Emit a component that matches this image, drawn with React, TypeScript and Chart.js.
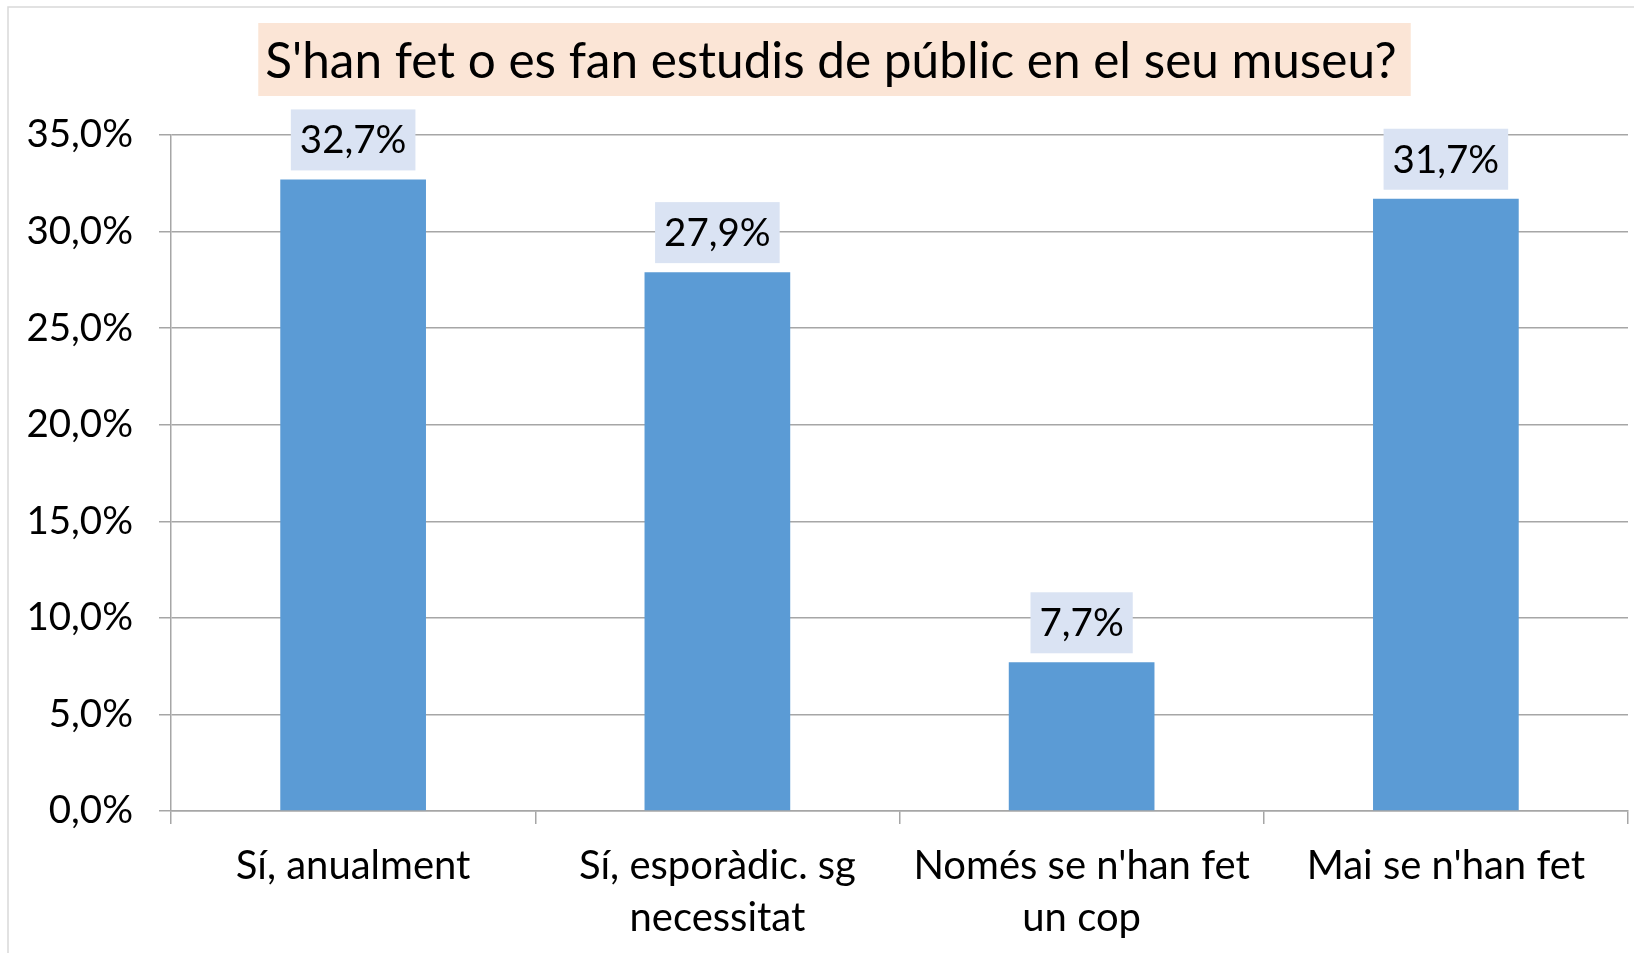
import React, { useEffect, useRef } from "react";
import { Chart, registerables } from "chart.js";

Chart.register(...registerables);

const categories: string[][] = [
  ["Sí, anualment"],
  ["Sí, esporàdic. sg", "necessitat"],
  ["Només se n'han fet", "un cop"],
  ["Mai se n'han fet"],
];
const values: number[] = [32.7, 27.9, 7.7, 31.7];
const titleText = "S'han fet o es fan estudis de públic en el seu museu?";
const yMin = 0;
const yMax = 35;
const yStep = 5;

const FONT = "Lato, 'Open Sans', sans-serif";
const TICK_SIZE = 38.5;
const XLABEL_SIZE = 40;
const TITLE_SIZE = 49.5;

const fmt = (v: number) => v.toFixed(1).replace(".", ",") + "%";

const framePlugin = {
  id: "frame",
  beforeDraw(chart: any) {
    const ctx = chart.ctx;
    ctx.save();
    ctx.fillStyle = "#ffffff";
    ctx.fillRect(0, 0, chart.width, chart.height);
    ctx.strokeStyle = "#D9D9D9";
    ctx.lineWidth = 1.5;
    ctx.strokeRect(8, 7, chart.width + 20, chart.height + 20);
    ctx.restore();
  },
  afterDraw(chart: any) {
    const ctx = chart.ctx;
    ctx.save();
    ctx.font = `${TITLE_SIZE}px ${FONT}`;
    const w = ctx.measureText(titleText).width;
    const cx = 831;
    ctx.fillStyle = "#FBE5D6";
    ctx.fillRect(cx - w / 2 - 7, 23, w + 21, 73);
    ctx.fillStyle = "#000000";
    ctx.textAlign = "center";
    ctx.textBaseline = "alphabetic";
    ctx.fillText(titleText, cx, 78);
    ctx.restore();
  },
};

const labelPlugin = {
  id: "barLabels",
  afterDatasetsDraw(chart: any) {
    const ctx = chart.ctx;
    const meta = chart.getDatasetMeta(0);
    ctx.save();
    ctx.font = `${TICK_SIZE}px ${FONT}`;
    meta.data.forEach((bar: any, i: number) => {
      const txt = fmt(values[i]);
      const w = ctx.measureText(txt).width;
      const bw = w + 18;
      const bh = 61;
      const bottom = bar.y - 9;
      ctx.fillStyle = "#DAE3F3";
      ctx.fillRect(bar.x - bw / 2, bottom - bh, bw, bh);
      ctx.fillStyle = "#000000";
      ctx.textAlign = "center";
      ctx.textBaseline = "middle";
      ctx.fillText(txt, bar.x, bottom - bh / 2 + 1);
    });
    ctx.restore();
  },
};

export default function App() {
  const ref = useRef<HTMLCanvasElement | null>(null);
  useEffect(() => {
    if (!ref.current) return;
    const chart = new Chart(ref.current, {
      type: "bar",
      data: {
        labels: categories,
        datasets: [
          {
            data: values,
            backgroundColor: "#5B9BD5",
            borderWidth: 0,
            barPercentage: 0.4,
            categoryPercentage: 1.0,
          },
        ],
      },
      options: {
        animation: false,
        responsive: false,
        maintainAspectRatio: false,
        layout: { padding: { left: 0, top: 135, right: 6, bottom: 0 } },
        plugins: {
          legend: { display: false },
          title: { display: false },
          tooltip: { enabled: false },
        },
        scales: {
          x: {
            grid: {
              offset: true,
              drawOnChartArea: false,
              drawTicks: true,
              tickLength: 13,
              color: "#A6A6A6",
              lineWidth: 1.5,
            },
            border: { color: "#A6A6A6", width: 1.5 },
            ticks: {
              color: "#000000",
              font: { family: FONT, size: XLABEL_SIZE, lineHeight: 1.3 },
              padding: 16,
              maxRotation: 0,
              autoSkip: false,
            },
            afterFit(scale: any) {
              scale.height = 142;
            },
          },
          y: {
            min: yMin,
            max: yMax,
            ticks: {
              stepSize: yStep,
              color: "#000000",
              font: { family: FONT, size: TICK_SIZE },
              padding: 26,
              callback: (v: any) => fmt(Number(v)),
            },
            grid: {
              color: "#A6A6A6",
              lineWidth: 1.5,
              tickLength: 12,
            },
            border: { color: "#A6A6A6", width: 1.5 },
            afterFit(scale: any) {
              scale.width = 171;
            },
          },
        },
      },
      plugins: [framePlugin, labelPlugin],
    });
    return () => chart.destroy();
  }, []);
  return (
    <div style={{ position: "fixed", left: 0, top: 0, width: 1634, height: 953 }}>
      <canvas ref={ref} width={1634} height={953} style={{ width: 1634, height: 953, display: "block" }} />
    </div>
  );
}
